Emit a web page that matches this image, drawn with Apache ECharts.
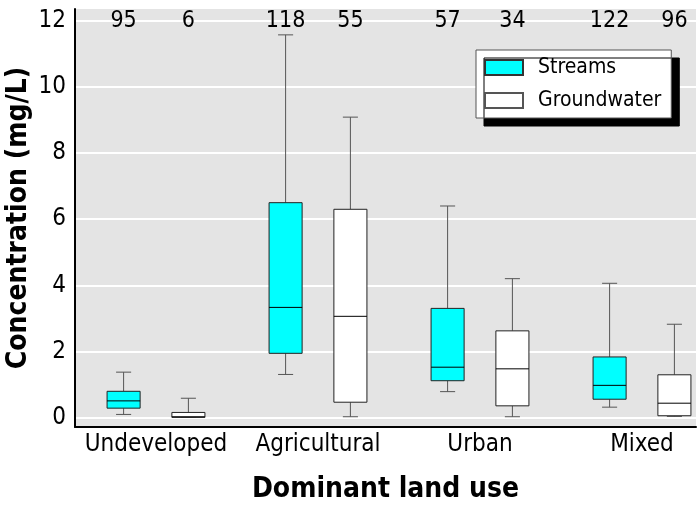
<!DOCTYPE html>
<html><head><meta charset="utf-8">
<script src="https://cdn.jsdelivr.net/npm/echarts@6/dist/echarts.min.js"></script>
<style>html,body{margin:0;padding:0;background:#fff}#c{width:699px;height:509px}</style>
</head><body><div id="c"></div>
<script>
const categories = ['Undeveloped', 'Agricultural', 'Urban', 'Mixed'];
// [min, q1, median, q3, max]
const streams = [
  [0.09, 0.28, 0.50, 0.79, 1.37],
  [1.30, 1.94, 3.33, 6.50, 11.58],
  [0.78, 1.11, 1.52, 3.30, 6.40],
  [0.31, 0.55, 0.97, 1.83, 4.06]
];
const groundwater = [
  [0.00, 0.00, 0.02, 0.15, 0.58],
  [0.02, 0.46, 3.06, 6.30, 9.09],
  [0.02, 0.35, 1.47, 2.62, 4.20],
  [0.03, 0.05, 0.43, 1.29, 2.82]
];
const streamsN = [95, 118, 57, 122];
const groundwaterN = [6, 55, 34, 96];
const yMax = 12;
const yInterval = 2;

const FONT = "'Liberation Sans Narrow','DejaVu Sans Condensed','Arial Narrow',sans-serif";

function makeRender(offset, fill) {
  return function (params, api) {
    const i = api.value(0);
    const band = api.size([1, 0])[0];
    const cx = api.coord([i, 0])[0] + offset * band;
    const w = band * 0.204;
    const cap = band * 0.093;
    const y = k => api.coord([i, api.value(k)])[1];
    const yMin = y(1), yQ1 = y(2), yMed = y(3), yQ3 = y(4), yMx = y(5);
    const topY = api.coord([i, yMax])[1];
    const ls = { stroke: '#555', lineWidth: 1 };
    return {
      type: 'group',
      children: [
        { type: 'line', shape: { x1: cx, y1: yQ3, x2: cx, y2: yMx }, style: ls },
        { type: 'line', shape: { x1: cx, y1: yQ1, x2: cx, y2: yMin }, style: ls },
        { type: 'line', shape: { x1: cx - cap / 2, y1: yMx, x2: cx + cap / 2, y2: yMx }, style: ls },
        { type: 'line', shape: { x1: cx - cap / 2, y1: yMin, x2: cx + cap / 2, y2: yMin }, style: ls },
        { type: 'rect', shape: { x: cx - w / 2, y: yQ3, width: w, height: Math.max(yQ1 - yQ3, 1) },
          style: { fill: fill, stroke: '#222', lineWidth: 1 } },
        { type: 'line', shape: { x1: cx - w / 2, y1: yMed, x2: cx + w / 2, y2: yMed },
          style: { stroke: '#000', lineWidth: 1 } },
        { type: 'text', x: cx, y: topY,
          style: { text: String(api.value(6)), fill: '#000', fontSize: 23, fontFamily: FONT,
                   align: 'center', verticalAlign: 'middle' } }
      ]
    };
  };
}

const chart = echarts.init(document.getElementById('c'), null, { renderer: 'canvas' });
chart.setOption({
  animation: false,
  textStyle: { fontFamily: FONT, color: '#000' },
  grid: [
    { left: 75, top: 9, right: 3, bottom: 82, show: true, backgroundColor: '#e4e4e4', borderWidth: 0,
      outerBoundsMode: 'none', containLabel: false },
    { left: 75, top: 21, width: 648, bottom: 91.6, outerBoundsMode: 'none', containLabel: false }
  ],
  xAxis: [
    { gridIndex: 0, type: 'value', min: 0, max: 1,
      axisLine: { show: true, lineStyle: { color: '#000', width: 2 } },
      axisTick: { show: false }, axisLabel: { show: false }, splitLine: { show: false },
      name: 'Dominant land use', nameLocation: 'middle', nameGap: 49,
      nameTextStyle: { fontSize: 28, fontWeight: 'bold', color: '#000', fontFamily: FONT } },
    { gridIndex: 1, type: 'category', data: categories,
      axisLine: { show: false }, axisTick: { show: false },
      axisLabel: { fontSize: 24, color: '#000', margin: 15, interval: 0, fontFamily: FONT } }
  ],
  yAxis: [
    { gridIndex: 0, type: 'value', min: 0, max: 1,
      axisLine: { show: true, lineStyle: { color: '#000', width: 2 } },
      axisTick: { show: false }, axisLabel: { show: false }, splitLine: { show: false },
      name: 'Concentration (mg/L)', nameLocation: 'middle', nameGap: 42, nameRotate: 90,
      nameTextStyle: { fontSize: 28, fontWeight: 'bold', color: '#000', fontFamily: FONT } },
    { gridIndex: 1, type: 'value', min: 0, max: yMax, interval: yInterval,
      axisLine: { show: false }, axisTick: { show: false },
      axisLabel: { fontSize: 24, color: '#000', margin: 9, fontFamily: FONT },
      splitLine: { show: true, lineStyle: { color: '#fff', width: 2 } } }
  ],
  legend: {
    data: ['Streams', 'Groundwater'],
    orient: 'vertical', left: 476, top: 50,
    backgroundColor: '#fff', borderColor: '#555', borderWidth: 1,
    shadowColor: '#000', shadowOffsetX: 8, shadowOffsetY: 8, shadowBlur: 0,
    itemWidth: 38, itemHeight: 15, itemGap: 12, icon: 'rect',
    padding: [7, 10, 7, 8],
    textStyle: { fontSize: 21, color: '#000', fontFamily: FONT, padding: [0, 0, 0, 10] }
  },
  series: [
    { name: 'Streams', type: 'custom', xAxisIndex: 1, yAxisIndex: 1,
      renderItem: makeRender(-0.2, '#00ffff'),
      itemStyle: { color: '#00ffff', borderColor: '#333', borderWidth: 1 },
      encode: { x: 0, y: [1, 2, 3, 4, 5] },
      data: streams.map((d, i) => [i, ...d, streamsN[i]]) },
    { name: 'Groundwater', type: 'custom', xAxisIndex: 1, yAxisIndex: 1,
      renderItem: makeRender(0.2, '#ffffff'),
      itemStyle: { color: '#ffffff', borderColor: '#555', borderWidth: 1 },
      encode: { x: 0, y: [1, 2, 3, 4, 5] },
      data: groundwater.map((d, i) => [i, ...d, groundwaterN[i]]) }
  ]
});
</script>
</body></html>
